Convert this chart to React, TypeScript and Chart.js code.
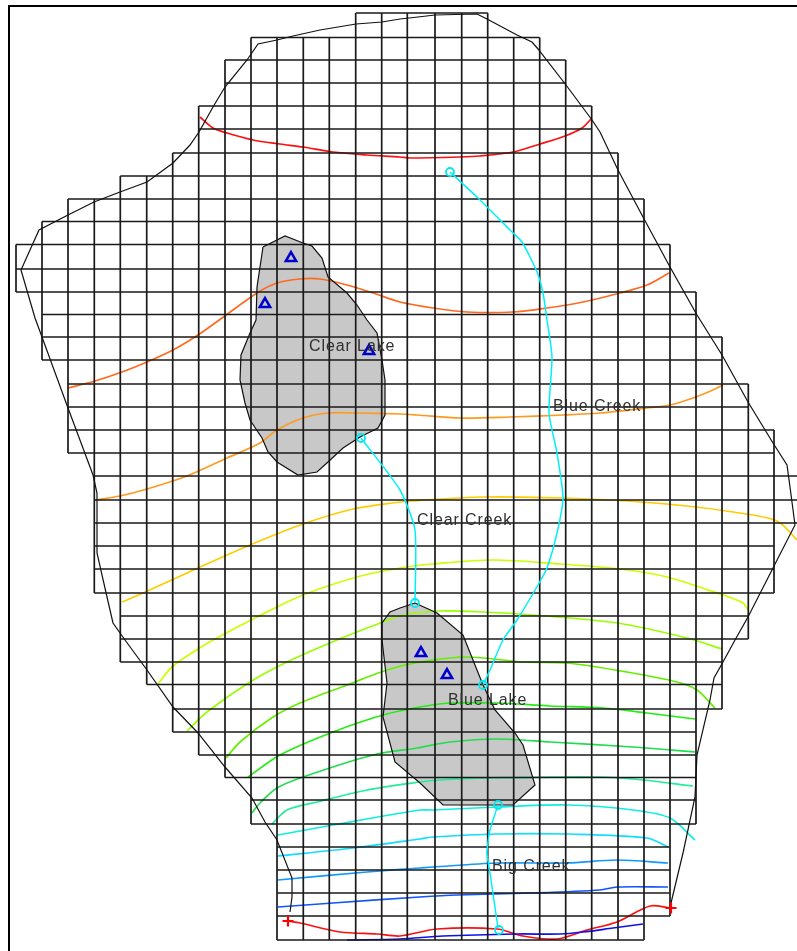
import React, { useEffect, useRef } from "react";
import { Chart, registerables } from "chart.js";

Chart.register(...registerables);

type P = [number, number];

const gridX = [16, 42, 68, 94.3, 120.3, 146.7, 172.7, 198.7, 225, 251, 277, 303.3, 329.3, 355.7, 381.7, 407.3, 435, 461.7, 487.7, 513.7, 539.7, 565.7, 591.7, 618, 644, 670, 696, 722, 748.3, 774, 800];
const gridY = [13, 37.5, 60, 83, 106, 129, 153, 176, 199, 221.5, 244.5, 269, 292, 314.5, 337, 360, 384, 407, 430, 453, 476, 500, 523, 546, 569, 593, 616, 639, 662, 684.5, 709, 732, 755, 777.5, 800, 824, 847, 870, 893, 916, 940];
const rowFirstColumn = [13, 9, 8, 8, 7, 7, 6, 4, 2, 1, 0, 0, 1, 1, 1, 2, 2, 2, 2, 3, 3, 3, 3, 3, 3, 4, 4, 4, 5, 6, 6, 7, 8, 9, 9, 10, 10, 10, 10, 10];
const rowLastColumn = [18, 20, 21, 21, 22, 22, 23, 23, 24, 24, 25, 25, 26, 26, 27, 27, 28, 28, 29, 29, 30, 30, 29, 29, 29, 28, 28, 27, 27, 27, 26, 26, 26, 26, 26, 25, 25, 25, 25, 24];

const frame: P[] = [[9, 951], [9, 6], [797, 6]];

const boundary: P[] = [[290, 912], [292, 897], [292, 878], [277, 840], [265, 822], [252, 798], [225, 767], [198, 733], [173, 707], [147, 670], [125, 640], [113, 623], [107, 597], [97, 553], [97, 493], [93, 475], [68, 408], [42, 337], [35, 318], [21, 270], [39, 230], [68, 215], [94, 202], [120, 192], [147, 182], [173, 163], [190, 145], [199, 132], [213, 107], [225, 87], [247, 60], [258, 44], [277, 40], [293, 36], [320, 30], [356, 24], [382, 22], [400, 19], [418, 17], [435, 15], [477, 14], [487, 19], [517, 35], [532, 42], [538, 49], [566, 85], [592, 120], [600, 132], [618, 170], [643, 217], [670, 267], [697, 315], [722, 355], [748, 402], [773, 443], [787, 465], [790, 487], [795, 525], [773, 568], [748, 617], [735, 640], [723, 662], [714, 678], [710, 700], [697, 755], [695, 797], [683, 853], [671, 903]];

const clearLake: P[] = [[263, 247], [285, 236], [303, 243], [312, 246], [322, 258], [328, 277], [347, 293], [357, 305], [367, 320], [377, 333], [382, 360], [385, 380], [385, 415], [378, 428], [360, 437], [343, 448], [328, 462], [317, 472], [298, 475], [277, 462], [268, 452], [262, 438], [250, 420], [245, 403], [240, 380], [241, 355], [250, 333], [256, 320], [257, 287], [260, 267], [263, 247]];
const blueLake: P[] = [[415, 603], [437, 613], [463, 635], [483, 685], [495, 710], [515, 733], [523, 745], [535, 785], [513, 805], [443, 805], [420, 783], [395, 762], [383, 717], [387, 683], [382, 640], [382, 623], [390, 612], [400, 608], [415, 603]];

const contourRed1: P[] = [[200, 117], [213, 128], [227, 133], [253, 140], [280, 144], [303, 147], [333, 152], [367, 155], [400, 157], [410, 158], [460, 157], [480, 156], [513, 152], [540, 144], [565, 136], [582, 128], [591, 119]];
const contourOrangeRed: P[] = [[68, 388], [95, 381], [122, 372], [147, 362], [173, 350], [198, 335], [222, 318], [257, 293], [277, 283], [300, 279], [320, 279], [347, 285], [373, 293], [400, 302], [433, 308], [467, 312], [513, 312], [547, 308], [583, 302], [620, 293], [647, 285], [669, 273]];
const contourOrange: P[] = [[95, 500], [120, 496], [147, 489], [187, 476], [227, 458], [260, 443], [277, 430], [303, 418], [328, 413], [358, 413], [400, 414], [417, 415], [460, 418], [510, 417], [563, 415], [600, 413], [647, 408], [670, 405], [693, 398], [713, 390], [723, 385]];
const contourAmber: P[] = [[122, 602], [143, 593], [198, 568], [250, 545], [303, 524], [353, 509], [400, 502], [410, 501], [483, 497], [563, 498], [627, 501], [687, 506], [733, 512], [777, 521], [797, 540]];
const contourLime1: P[] = [[158, 684], [172, 667], [198, 649], [215, 639], [257, 617], [303, 595], [357, 577], [400, 568], [433, 564], [493, 560], [560, 564], [620, 569], [667, 577], [720, 594], [743, 603], [748, 610]];
const contourLime2: P[] = [[187, 731], [207, 712], [250, 682], [287, 662], [337, 640], [383, 622], [403, 615], [440, 611], [483, 612], [533, 615], [617, 623], [687, 638], [722, 649]];
const contourGreen1: P[] = [[226, 758], [240, 742], [273, 717], [300, 703], [347, 685], [387, 670], [420, 662], [467, 657], [523, 662], [567, 663], [627, 672], [677, 682], [697, 690], [715, 708]];
const contourGreen2: P[] = [[248, 777], [280, 755], [333, 732], [383, 715], [420, 707], [450, 703], [497, 703], [550, 706], [603, 708], [647, 713], [695, 719]];
const contourGreen3: P[] = [[252, 813], [260, 803], [277, 788], [303, 777], [373, 755], [417, 748], [450, 742], [497, 739], [550, 742], [633, 747], [695, 752]];
const contourSpring: P[] = [[272, 824], [287, 810], [317, 802], [367, 790], [420, 782], [440, 780], [487, 778], [600, 777], [643, 780], [693, 786]];
const contourAqua: P[] = [[278, 835], [333, 825], [420, 810], [433, 810], [497, 807], [567, 805], [633, 810], [670, 818], [695, 840]];
const contourCyan: P[] = [[278, 856], [353, 848], [420, 839], [433, 837], [497, 834], [567, 834], [647, 838], [668, 847]];
const contourSky: P[] = [[278, 880], [367, 872], [420, 868], [433, 867], [497, 863], [567, 863], [617, 860], [668, 863]];
const contourBlue: P[] = [[278, 907], [333, 903], [420, 897], [457, 895], [533, 893], [600, 890], [617, 887], [668, 887]];
const contourDeepBlue: P[] = [[347, 940], [400, 939], [443, 936], [517, 934], [560, 934], [583, 932], [613, 928], [643, 924]];
const contourRed2: P[] = [[288, 921], [300, 923], [340, 932], [377, 934], [400, 936], [437, 929], [497, 929], [523, 936], [557, 939], [587, 930], [617, 922], [650, 906], [670, 908]];

const blueCreek: P[] = [[450, 172], [478, 198], [510, 230], [522, 242], [537, 272], [543, 293], [547, 320], [552, 357], [549, 413], [557, 453], [563, 498], [557, 533], [547, 568], [538, 585], [517, 620], [503, 640], [490, 670], [483, 685]];
const clearCreek: P[] = [[361, 438], [400, 490], [415, 530], [415, 603]];
const bigCreek: P[] = [[498, 805], [490, 830], [487, 853], [490, 873], [498, 928]];

const streamNodes: P[] = [[450, 172], [361, 438], [415, 603], [483, 685], [498, 805], [499, 930]];
const wells: P[] = [[291, 258], [265, 304], [369, 351], [421, 653], [447, 675]];
const crosses: P[] = [[288, 921], [671, 908]];

const labelTexts = ["Clear Lake", "Blue Creek", "Clear Creek", "Blue Lake", "Big Creek"];
const labelPositions: P[] = [[309, 347], [553, 407], [417, 521], [448, 701], [492, 867]];

const contours: [P[], string][] = [
  [contourRed1, "#ff1010"],
  [contourOrangeRed, "#ff6a20"],
  [contourOrange, "#ff9a20"],
  [contourAmber, "#ffcc00"],
  [contourLime1, "#ccff00"],
  [contourLime2, "#99ff00"],
  [contourGreen1, "#66ee00"],
  [contourGreen2, "#22ee10"],
  [contourGreen3, "#22dd50"],
  [contourSpring, "#22ee99"],
  [contourAqua, "#10eedd"],
  [contourCyan, "#10ddff"],
  [contourSky, "#1199ff"],
  [contourBlue, "#1155ff"],
  [contourDeepBlue, "#1010ee"],
  [contourRed2, "#ff1010"],
];

const toXY = (pts: P[]) => pts.map(([x, y]) => ({ x, y }));

function buildGrid() {
  const out: { x: number; y: number }[] = [];
  const gap = () => out.push({ x: NaN, y: NaN });
  for (let j = 0; j < gridY.length; j++) {
    const rows = [j - 1, j].filter((r) => r >= 0 && r < rowFirstColumn.length);
    const a = Math.min(...rows.map((r) => rowFirstColumn[r]));
    const b = Math.max(...rows.map((r) => rowLastColumn[r]));
    out.push({ x: gridX[a], y: gridY[j] }, { x: gridX[b], y: gridY[j] });
    gap();
  }
  for (let i = 0; i < gridX.length; i++) {
    let start = -1;
    for (let r = 0; r <= rowFirstColumn.length; r++) {
      const inside = r < rowFirstColumn.length && rowFirstColumn[r] <= i && i <= rowLastColumn[r];
      if (inside && start < 0) start = r;
      if (!inside && start >= 0) {
        out.push({ x: gridX[i], y: gridY[start] }, { x: gridX[i], y: gridY[r] });
        gap();
        start = -1;
      }
    }
  }
  return out;
}

const lakeFill = {
  id: "lakeFill",
  beforeDatasetsDraw(chart: any) {
    const ctx = chart.ctx;
    chart.data.datasets.forEach((ds: any, i: number) => {
      if (!ds.lake) return;
      const pts = chart.getDatasetMeta(i).data;
      ctx.save();
      ctx.beginPath();
      pts.forEach((p: any, k: number) => (k ? ctx.lineTo(p.x, p.y) : ctx.moveTo(p.x, p.y)));
      ctx.closePath();
      ctx.fillStyle = "#c8c8c8";
      ctx.fill();
      ctx.restore();
    });
  },
};

const mapLabels = {
  id: "mapLabels",
  afterDatasetsDraw(chart: any) {
    const { ctx, scales } = chart;
    ctx.save();
    ctx.font = "16px 'Liberation Sans', Arial, sans-serif";
    ctx.letterSpacing = "0.9px";
    ctx.fillStyle = "#303030";
    ctx.textAlign = "left";
    ctx.textBaseline = "middle";
    labelTexts.forEach((t, i) => {
      const [x, y] = labelPositions[i];
      ctx.fillText(t, scales.x.getPixelForValue(x), scales.y.getPixelForValue(y));
    });
    ctx.restore();
  },
};

export default function App() {
  const ref = useRef<HTMLCanvasElement>(null);
  useEffect(() => {
    document.body.style.margin = "0";
    const line = (data: P[], color: string, width: number, order: number, extra: any = {}) => ({
      data: toXY(data),
      borderColor: color,
      borderWidth: width,
      showLine: true,
      pointRadius: 0,
      tension: 0,
      fill: false,
      order,
      ...extra,
    });
    const points = (data: P[], style: string, color: string, radius: number, bw: number, order: number) => ({
      data: toXY(data),
      showLine: false,
      pointStyle: style,
      pointRadius: radius,
      pointBorderColor: color,
      pointBackgroundColor: "rgba(0,0,0,0)",
      pointBorderWidth: bw,
      order,
    });
    const chart = new Chart(ref.current!, {
      type: "scatter",
      data: {
        datasets: [
          points(streamNodes, "circle", "#00e8f0", 4, 1.8, 1),
          points(wells, "triangle", "#0000cc", 6, 2.5, 1),
          points(crosses, "cross", "#ff0000", 5.5, 2.2, 1),
          line(blueCreek, "#00f0f8", 1.5, 3, { tension: 0.2 }),
          line(clearCreek, "#00f0f8", 1.5, 3, { tension: 0.2 }),
          line(bigCreek, "#00f0f8", 1.5, 3, { tension: 0.2 }),
          line(boundary, "#111111", 1.2, 4),
          line(clearLake, "#111111", 1.2, 4, { lake: true }),
          line(blueLake, "#111111", 1.2, 4, { lake: true }),
          {
            data: buildGrid(),
            borderColor: "#1a1a1a",
            borderWidth: 1.7,
            showLine: true,
            pointRadius: 0,
            spanGaps: false,
            order: 5,
          },
          ...contours.map(([d, c]) => line(d, c, 1.7, 6, { tension: 0.3 })),
          line(frame, "#000000", 2, 7),
        ] as any,
      },
      options: {
        animation: false,
        responsive: false,
        devicePixelRatio: 1,
        layout: { padding: 0, autoPadding: false },
        plugins: { legend: { display: false }, tooltip: { enabled: false } },
        scales: {
          x: { type: "linear", display: false, min: 0, max: 797 },
          y: { type: "linear", display: false, min: 0, max: 951, reverse: true },
        },
      } as any,
      plugins: [lakeFill, mapLabels],
    });
    return () => chart.destroy();
  }, []);
  return <canvas ref={ref} width={797} height={951} style={{ display: "block", background: "#ffffff" }} />;
}
